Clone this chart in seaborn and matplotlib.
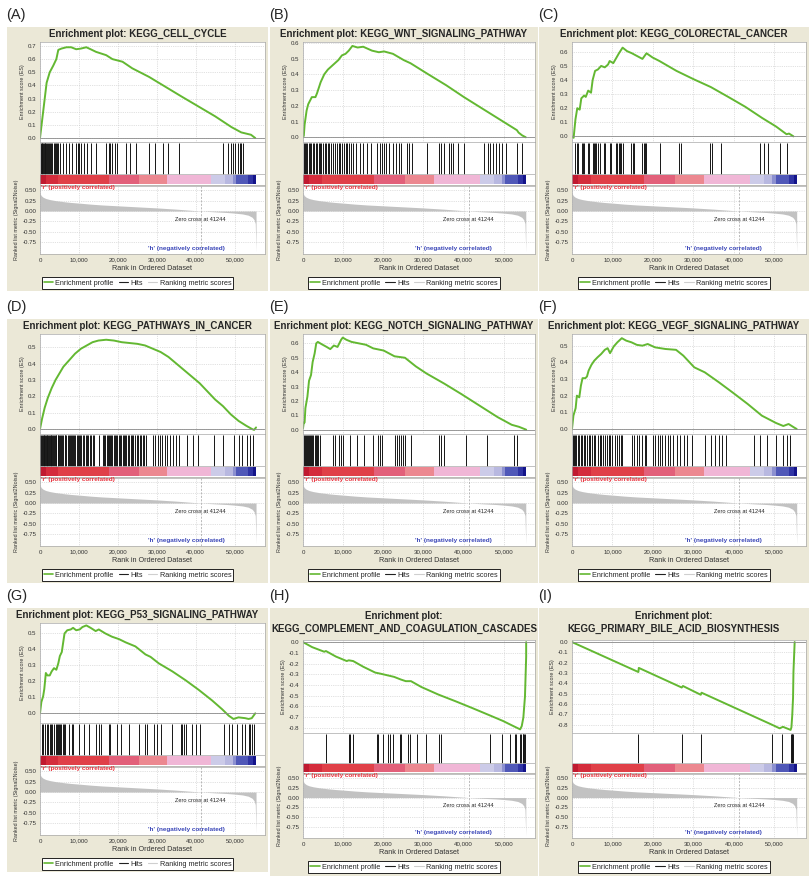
import matplotlib
matplotlib.use("Agg")
import matplotlib.pyplot as plt
from matplotlib.lines import Line2D
from matplotlib.patches import Rectangle
import seaborn as sns

# figure size in pixels (dpi 100)
W, H = 811, 880

BEIGE = "#ebe8d7"
GREEN = "#63b832"
SPINE = "#a8a8a8"
RED_TXT = "#e8333d"
BLUE_TXT = "#3a46b8"

# ranks are in thousands throughout
XMAX = 57.8
x_ticks = [0, 10, 20, 30, 40, 50]
x_tick_labels = ["0", "10,000", "20,000", "30,000", "40,000", "50,000"]

# ranked list metric (same ordered dataset for all panels)
metric_rank = [0, 0.3, 0.8, 1.5, 2.5, 4, 6, 8, 10, 13, 16, 20, 25, 30, 35, 41.244,
               45, 48, 50, 52, 53.5, 54.5, 55.0, 55.3, 55.5]
metric_score = [0.43, 0.37, 0.33, 0.30, 0.275, 0.25, 0.225, 0.205, 0.19, 0.165, 0.145,
                0.125, 0.10, 0.075, 0.045, 0.0, -0.02, -0.035, -0.05, -0.07, -0.10,
                -0.15, -0.21, -0.30, -0.98]
zero_cross = 41.244
metric_ticks = [0.5, 0.25, 0.0, -0.25, -0.5, -0.75]
metric_tick_labels = ["0.50", "0.25", "0.00", "-0.25", "-0.50", "-0.75"]

# colour bar of the ranked list
cb_edges = [0, 1.5, 4.7, 17.8, 25.4, 32.6, 44.0, 47.5, 49.5, 50.4, 53.5, 54.8, 55.5]
cb_colors = ["#c01a30", "#d42c3c", "#e04048", "#e2607a", "#ec8890", "#f0b6d6",
             "#cccbe8", "#b8b8e0", "#8c90d0", "#5058b8", "#3034a4", "#14148a"]

panel_labels = ["(A)", "(B)", "(C)", "(D)", "(E)", "(F)", "(G)", "(H)", "(I)"]
panel_titles = ["KEGG_CELL_CYCLE", "KEGG_WNT_SIGNALING_PATHWAY", "KEGG_COLORECTAL_CANCER",
                "KEGG_PATHWAYS_IN_CANCER", "KEGG_NOTCH_SIGNALING_PATHWAY",
                "KEGG_VEGF_SIGNALING_PATHWAY", "KEGG_P53_SIGNALING_PATHWAY",
                "KEGG_COMPLEMENT_AND_COAGULATION_CASCADES",
                "KEGG_PRIMARY_BILE_ACID_BIOSYNTHESIS"]

a_rank = [0, 0.85, 1.7, 2.5, 3.4, 4.2, 4.7, 5.5, 6.8, 8.0, 9.3, 10.5, 11.9, 13.0, 14.4,
          17.0, 18.6, 21.2, 23.7, 28.0, 32.2, 36.4, 40.7, 45.0, 49.2, 51.7, 54.2, 55.3]
a_es = [0.0, 0.21, 0.42, 0.50, 0.55, 0.60, 0.67, 0.68, 0.69, 0.69, 0.675, 0.68, 0.69,
        0.675, 0.655, 0.63, 0.60, 0.58, 0.53, 0.465, 0.39, 0.315, 0.24, 0.165, 0.083,
        0.043, 0.025, 0.0]
a_hits = [0.2, 0.4, 0.6, 0.8, 1.0, 1.2, 1.4, 1.6, 1.8, 2.0, 2.3, 2.6, 2.9, 3.2, 3.5, 3.8,
          4.1, 4.4, 4.7, 5.2, 5.9, 6.6, 7.5, 8.2, 9.3, 9.7, 10.1, 10.5, 11.2, 12.0, 13.0,
          14.4, 17.0, 17.6, 18.0, 18.6, 19.2, 19.8, 22.0, 23.1, 24.6, 28.0, 29.5, 31.7,
          33.0, 35.6, 47.1, 48.3, 49.0, 49.6, 50.1, 50.9, 51.3, 51.7, 52.2]

b_rank = [0, 0.2, 0.4, 0.9, 1.3, 2.2, 3.1, 3.5, 4.4, 5.3, 6.2, 7.5, 8.8, 9.7, 10.6, 11.4,
          12.3, 13.6, 15.0, 17.2, 18.9, 20.2, 22.4, 25.1, 26.8, 31.2, 35.7, 40.1, 44.5,
          48.9, 53.3, 53.7, 54.6, 55.5]
b_es = [0.0, 0.01, 0.08, 0.17, 0.21, 0.255, 0.255, 0.28, 0.35, 0.40, 0.43, 0.46, 0.49,
        0.52, 0.53, 0.55, 0.58, 0.57, 0.575, 0.55, 0.54, 0.545, 0.53, 0.49, 0.47, 0.40,
        0.33, 0.255, 0.185, 0.115, 0.045, 0.03, 0.012, 0.0]
b_hits = [0.2, 0.5, 0.8, 1.1, 1.4, 1.7, 2.0, 2.4, 2.8, 3.2, 3.6, 4.0, 4.3, 4.6, 5.0, 5.4,
          5.8, 6.2, 6.6, 7.0, 7.5, 8.0, 8.4, 8.9, 9.3, 9.8, 10.2, 10.7, 11.0, 11.5, 12.0,
          12.5, 13.3, 14.2, 15.0, 16.0, 17.0, 18.5, 19.2, 19.8, 20.3, 20.8, 21.4, 22.5,
          23.2, 23.8, 24.3, 26.0, 26.5, 27.1, 30.8, 34.0, 34.5, 35.2, 36.3, 36.8, 37.4,
          38.7, 40.0, 45.2, 46.0, 46.7, 47.3, 48.0, 48.8, 49.5, 50.6, 53.3, 54.6]

c_rank = [0, 0.4, 0.85, 1.3, 1.9, 2.3, 3.0, 3.4, 4.0, 4.7, 5.1, 5.7, 6.4, 7.2, 8.1, 8.9,
          9.3, 10.2, 11.0, 11.6, 12.5, 13.6, 14.8, 16.1, 17.4, 18.4, 19.9, 21.6, 23.7,
          25.8, 30.1, 34.3, 38.6, 42.8, 47.0, 50.4, 53.0, 53.6, 54.7]
c_es = [0.0, -0.01, 0.12, 0.20, 0.19, 0.27, 0.29, 0.28, 0.325, 0.31, 0.40, 0.465, 0.475,
        0.50, 0.49, 0.51, 0.535, 0.52, 0.56, 0.59, 0.63, 0.605, 0.59, 0.57, 0.55, 0.59,
        0.56, 0.535, 0.50, 0.465, 0.405, 0.35, 0.28, 0.21, 0.13, 0.07, 0.015, 0.02, 0.0]
c_hits = [0.85, 1.2, 1.4, 2.5, 2.7, 3.0, 4.0, 4.2, 5.3, 5.5, 5.7, 5.9, 6.5, 6.9, 7.8, 8.1,
          9.5, 9.7, 10.8, 11.2, 11.5, 11.8, 12.1, 12.5, 14.6, 15.0, 15.4, 17.4, 17.7, 18.0,
          18.2, 21.8, 26.4, 26.9, 34.2, 34.7, 36.9, 46.4, 47.4, 48.5, 51.4, 53.1]

d_rank = [0, 0.5, 1.2, 2.0, 3.0, 4.0, 5.0, 6.0, 7.5, 9.0, 10.5, 12.0, 13.5, 15.0, 17.0,
          19.0, 21.0, 23.0, 25.0, 27.0, 29.0, 31.0, 33.0, 35.0, 37.0, 39.0, 41.0, 43.0,
          45.0, 47.0, 49.0, 51.0, 53.0, 54.5, 55.0, 55.5]
d_es = [0.0, 0.06, 0.13, 0.19, 0.25, 0.30, 0.34, 0.38, 0.42, 0.46, 0.49, 0.51, 0.53, 0.54,
        0.545, 0.54, 0.53, 0.525, 0.52, 0.51, 0.49, 0.47, 0.44, 0.40, 0.36, 0.32, 0.28,
        0.23, 0.18, 0.14, 0.09, 0.05, 0.02, 0.0, -0.005, 0.01]
d_hits = [0.1, 0.3, 0.5, 0.7, 0.9, 1.1, 1.3, 1.5, 1.7, 1.9, 2.1, 2.3, 2.5, 2.7, 2.9, 3.1,
          3.3, 3.5, 3.8, 4.0, 4.2, 4.5, 4.7, 5.0, 5.2, 5.5, 5.7, 6.0, 6.3, 6.5, 6.8, 7.1,
          7.4, 7.6, 7.9, 8.2, 8.5, 8.8, 9.1, 9.4, 9.7, 10.0, 10.3, 10.6, 11.0, 11.3, 11.7,
          12.0, 12.4, 12.8, 13.2, 13.6, 14.0, 15.1, 16.2, 16.5, 16.8, 17.1, 17.4, 17.7,
          18.0, 18.3, 18.6, 18.9, 19.2, 19.5, 19.9, 20.2, 20.5, 20.9, 21.2, 21.5, 21.9,
          22.2, 22.6, 22.9, 23.3, 23.6, 24.0, 24.4, 24.8, 25.2, 25.6, 26.0, 26.4, 26.8,
          27.3, 29.0, 29.6, 30.2, 30.8, 31.4, 32.0, 32.7, 33.4, 34.2, 35.0, 35.8, 37.8,
          39.4, 40.6, 44.6, 47.0, 49.8, 51.0, 52.0, 53.2, 54.0, 54.7]

e_rank = [0, 0.2, 0.4, 0.6, 1.1, 1.5, 2.0, 2.4, 2.9, 3.3, 3.7, 4.6, 5.9, 6.8, 7.7, 8.6,
          9.5, 9.9, 10.8, 12.1, 13.9, 15.7, 17.5, 20.1, 22.8, 25.4, 28.1, 30.8, 35.2,
          39.6, 44.1, 48.5, 52.0, 53.8, 55.6]
e_es = [0.01, 0.05, 0.05, 0.15, 0.23, 0.34, 0.38, 0.47, 0.53, 0.60, 0.61, 0.595, 0.575,
        0.56, 0.585, 0.575, 0.625, 0.64, 0.625, 0.61, 0.60, 0.59, 0.565, 0.55, 0.51, 0.50,
        0.44, 0.39, 0.32, 0.245, 0.165, 0.087, 0.034, 0.02, 0.0]
e_hits = [0.2, 0.45, 0.7, 0.95, 1.2, 1.45, 1.7, 2.0, 2.3, 2.6, 2.9, 3.2, 3.5, 3.7, 4.2,
          7.5, 7.9, 9.0, 9.5, 9.9, 11.7, 13.5, 15.2, 17.5, 18.8, 19.2, 19.7, 22.8, 23.3,
          23.9, 24.4, 24.8, 25.4, 26.8, 33.9, 34.3, 35.2, 40.5, 45.8, 52.5, 53.4]

f_rank = [0, 0.35, 0.9, 1.2, 1.8, 2.2, 2.6, 3.3, 3.7, 4.1, 4.8, 5.5, 6.3, 7.2, 8.1, 8.8,
          9.4, 10.3, 11.2, 12.3, 13.4, 14.7, 16.0, 17.4, 18.7, 20.5, 23.1, 25.7, 27.5,
          30.2, 32.8, 36.3, 39.9, 43.4, 46.9, 50.4, 52.2, 53.5, 54.8, 55.5]
f_es = [0.0, 0.08, 0.125, 0.20, 0.19, 0.26, 0.305, 0.305, 0.315, 0.35, 0.385, 0.41, 0.43,
        0.45, 0.475, 0.485, 0.455, 0.495, 0.52, 0.545, 0.53, 0.52, 0.505, 0.50, 0.51,
        0.49, 0.48, 0.475, 0.44, 0.37, 0.34, 0.28, 0.215, 0.15, 0.08, 0.036, 0.018, 0.03,
        0.01, 0.0]
f_hits = [0.2, 0.5, 0.8, 1.1, 1.5, 1.8, 2.2, 2.5, 2.9, 3.3, 3.7, 4.1, 4.5, 4.9, 5.4, 5.8,
          6.3, 6.8, 7.2, 7.7, 8.1, 8.6, 9.1, 9.5, 10.0, 10.5, 11.0, 11.5, 12.0, 12.4,
          14.7, 15.3, 16.0, 16.6, 17.4, 18.0, 18.4, 20.0, 20.6, 21.2, 21.8, 22.3, 23.0,
          23.6, 24.2, 24.9, 26.0, 26.8, 27.6, 28.5, 29.6, 32.8, 34.3, 35.2, 36.2, 37.1,
          38.0, 45.0, 46.5, 48.2, 50.4, 52.2, 53.0, 53.8]

g_rank = [0, 0.35, 0.8, 1.1, 1.5, 1.9, 2.5, 3.0, 3.6, 4.2, 4.7, 5.1, 5.6, 5.9, 6.3, 7.0,
          7.9, 8.5, 9.3, 10.2, 10.9, 11.9, 13.0, 14.3, 15.1, 16.8, 18.5, 20.3, 22.0, 24.5,
          27.1, 28.4, 30.5, 34.0, 37.4, 40.8, 44.2, 46.8, 48.5, 49.7, 51.0, 52.7, 53.6,
          54.4, 55.3]
g_es = [0.0, 0.07, 0.105, 0.15, 0.25, 0.235, 0.235, 0.26, 0.28, 0.27, 0.31, 0.355, 0.38,
        0.43, 0.495, 0.515, 0.52, 0.53, 0.515, 0.52, 0.535, 0.545, 0.53, 0.51, 0.52,
        0.495, 0.475, 0.46, 0.44, 0.415, 0.365, 0.35, 0.31, 0.26, 0.205, 0.145, 0.08,
        0.025, -0.015, -0.035, -0.025, -0.03, -0.035, -0.03, 0.0]
g_hits = [0.4, 0.8, 1.2, 1.7, 2.1, 2.5, 2.9, 3.2, 3.6, 4.0, 4.3, 4.6, 4.9, 5.2, 5.5, 5.8,
          6.1, 6.3, 7.4, 8.1, 8.5, 10.0, 11.3, 12.6, 14.3, 15.1, 15.6, 17.6, 18.1, 19.8,
          20.7, 22.8, 25.4, 27.1, 27.5, 29.3, 30.1, 31.0, 34.0, 36.1, 36.5, 37.0, 37.4,
          39.1, 40.0, 41.2, 47.2, 48.5, 49.3, 50.6, 51.9, 52.7, 53.6, 54.0, 54.4, 54.9]

h_rank = [0, 2.3, 5.3, 5.7, 8.2, 10.9, 11.4, 12.5, 15.0, 18.0, 19.3, 21.0, 22.7, 24.4,
          25.6, 26.9, 29.5, 33.7, 38.0, 42.2, 46.4, 49.8, 52.4, 54.1, 54.5, 54.9, 55.3,
          55.6, 55.6]
h_es = [0.0, -0.047, -0.09, -0.083, -0.135, -0.177, -0.17, -0.177, -0.23, -0.285, -0.295,
        -0.31, -0.325, -0.35, -0.365, -0.365, -0.42, -0.49, -0.553, -0.617, -0.683,
        -0.737, -0.785, -0.816, -0.785, -0.705, -0.51, -0.136, 0.0]
h_hits = [5.7, 11.4, 11.6, 12.4, 18.4, 18.6, 19.9, 21.3, 21.6, 22.4, 24.1, 24.4, 26.2,
          26.6, 28.5, 30.7, 34.0, 34.3, 46.6, 49.6, 51.5, 52.7, 53.1, 54.1, 54.4, 54.7,
          54.9, 55.1, 55.3]

i_rank = [0, 16.4, 16.5, 27.1, 27.4, 31.8, 32.0, 49.4, 51.3, 52.1, 54.0, 54.2, 54.4, 54.6,
          54.7, 55.0]
i_es = [0.0, -0.29, -0.25, -0.44, -0.425, -0.51, -0.49, -0.80, -0.835, -0.82, -0.85,
        -0.825, -0.71, -0.54, -0.29, 0.0]
i_hits = [16.4, 27.1, 31.8, 49.4, 51.9, 54.1, 54.3, 54.45, 54.6]

es_ticks_07 = [0.0, 0.1, 0.2, 0.3, 0.4, 0.5, 0.6, 0.7]
es_ticks_06 = [0.0, 0.1, 0.2, 0.3, 0.4, 0.5, 0.6]
es_ticks_05 = [0.0, 0.1, 0.2, 0.3, 0.4, 0.5]
es_ticks_neg = [0.0, -0.1, -0.2, -0.3, -0.4, -0.5, -0.6, -0.7, -0.8]


def to_fig(x, y):
    return x / W, 1 - y / H


def style_axes(ax):
    for sp in ax.spines.values():
        sp.set_color(SPINE)
        sp.set_linewidth(0.5)
    ax.tick_params(labelsize=4.4, length=1.5, width=0.4, pad=1.2,
                   color="#888888", labelcolor="#333333")


def draw_panel(fig, box, label, title, es_rank, es_score, hits, es_lim, es_ticks,
               two_line=False):
    x0, y0, w, h = box
    cx = x0 + w / 2

    fig.add_artist(Rectangle(to_fig(x0, y0 + h), w / W, h / H, transform=fig.transFigure,
                             facecolor=BEIGE, edgecolor="none", zorder=-1))
    fig.text(*to_fig(x0 - 1, y0 - 12), label, fontsize=10.5, ha="left", va="center")

    if two_line:
        fig.text(*to_fig(cx, y0 + 8), "Enrichment plot:", fontsize=7, fontweight="bold",
                 ha="center", va="center")
        fig.text(*to_fig(cx, y0 + 21), title, fontsize=7, fontweight="bold",
                 ha="center", va="center")
        es_top, es_bot, hit_bot, met_top, met_bot, leg_y = 32, 125, 165, 166, 230, 259
    else:
        fig.text(*to_fig(cx, y0 + 6.5), "Enrichment plot: " + title, fontsize=7,
                 fontweight="bold", ha="center", va="center")
        es_top, es_bot, hit_bot, met_top, met_bot, leg_y = 15, 115, 158, 159, 227, 256

    left = x0 + 33
    right = x0 + w - 3

    def make_axes(top, bot):
        fx, fy = to_fig(left, y0 + bot)
        return fig.add_axes([fx, fy, (right - left) / W, (bot - top) / H])

    # enrichment score
    ax_es = make_axes(es_top, es_bot)
    sns.lineplot(x=es_rank, y=es_score, sort=False, estimator=None, color=GREEN,
                 linewidth=1.4, ax=ax_es)
    ax_es.axhline(0, color="#8a8a8a", lw=0.6)
    ax_es.set_xlim(0, XMAX)
    ax_es.set_ylim(*es_lim)
    ax_es.set_xticks(x_ticks)
    ax_es.set_xticklabels([])
    ax_es.tick_params(axis="x", length=0)
    ax_es.set_yticks(es_ticks)
    ax_es.set_yticklabels([f"{v:.1f}" for v in es_ticks])
    ax_es.grid(True, ls=":", lw=0.5, color="#c4c4c4")
    ax_es.set_xlabel("")
    ax_es.set_ylabel("Enrichment score (ES)", fontsize=3.9, labelpad=2, color="#333333")
    style_axes(ax_es)

    # hits + colour bar
    ax_hit = make_axes(es_bot, hit_bot)
    ax_hit.vlines(hits, 0.25, 0.97, color="#151515", lw=0.7)
    for i, col in enumerate(cb_colors):
        ax_hit.axvspan(cb_edges[i], cb_edges[i + 1], ymin=0.03, ymax=0.23, color=col, lw=0)
    ax_hit.axhline(0.245, color=SPINE, lw=0.5)
    ax_hit.set_xlim(0, XMAX)
    ax_hit.set_ylim(0, 1)
    ax_hit.set_xticks([])
    ax_hit.set_yticks([])
    style_axes(ax_hit)

    # ranked list metric
    ax_m = make_axes(met_top, met_bot)
    ax_m.fill_between(metric_rank, metric_score, 0, color="#c2c2c2", lw=0)
    ax_m.axvline(zero_cross, ls=(0, (3, 2)), color="#a0a0a0", lw=0.5)
    ax_m.text(zero_cross, -0.21, "Zero cross at 41244", fontsize=4.1, ha="center",
              va="center", color="#222222")
    ax_m.text(0.3, 0.56, "'r' (positively correlated)", fontsize=4.6, fontweight="bold",
              color=RED_TXT, ha="left", va="center")
    ax_m.text(37.5, -0.9, "'h' (negatively correlated)", fontsize=4.6, fontweight="bold",
              color=BLUE_TXT, ha="center", va="center")
    ax_m.set_xlim(0, XMAX)
    ax_m.set_ylim(-1.03, 0.6)
    ax_m.set_xticks(x_ticks)
    ax_m.set_xticklabels(x_tick_labels)
    ax_m.set_yticks(metric_ticks)
    ax_m.set_yticklabels(metric_tick_labels)
    ax_m.grid(True, ls=":", lw=0.5, color="#c4c4c4")
    ax_m.set_xlabel("Rank in Ordered Dataset", fontsize=5.2, labelpad=1.5, color="#333333")
    ax_m.set_ylabel("Ranked list metric (Signal2Noise)", fontsize=3.9, labelpad=2,
                    color="#333333")
    style_axes(ax_m)

    handles = [Line2D([], [], color=GREEN, lw=1.2),
               Line2D([], [], color="#202020", lw=0.8),
               Line2D([], [], color="#cfcfcf", lw=0.8)]
    leg = fig.legend(handles, ["Enrichment profile", "Hits", "Ranking metric scores"],
                     loc="center", bbox_to_anchor=to_fig(cx, y0 + leg_y), ncol=3,
                     fontsize=5.2, frameon=True, fancybox=False, edgecolor="black",
                     framealpha=1, borderpad=0.3, handlelength=1.3, handletextpad=0.3,
                     columnspacing=0.7, borderaxespad=0)
    leg.get_frame().set_linewidth(0.6)


sns.set_style("white")
plt.rcParams["font.family"] = ["Liberation Sans", "DejaVu Sans"]

fig = plt.figure(figsize=(W / 100, H / 100), dpi=100)

boxes = [(7, 27, 261, 264), (270, 27, 268, 264), (539, 27, 270, 264),
         (7, 319, 261, 264), (270, 319, 268, 264), (539, 319, 270, 264),
         (7, 608, 261, 264), (270, 608, 268, 268), (539, 608, 270, 268)]

panel_data = [
    (a_rank, a_es, a_hits, (-0.03, 0.73), es_ticks_07),
    (b_rank, b_es, b_hits, (-0.03, 0.605), es_ticks_06),
    (c_rank, c_es, c_hits, (-0.04, 0.67), es_ticks_06),
    (d_rank, d_es, d_hits, (-0.03, 0.58), es_ticks_05),
    (e_rank, e_es, e_hits, (-0.03, 0.665), es_ticks_06),
    (f_rank, f_es, f_hits, (-0.03, 0.57), es_ticks_05),
    (g_rank, g_es, g_hits, (-0.06, 0.56), es_ticks_05),
    (h_rank, h_es, h_hits, (-0.85, 0.02), es_ticks_neg),
    (i_rank, i_es, i_hits, (-0.88, 0.02), es_ticks_neg),
]

for k, (rank, es, hits, lim, ticks) in enumerate(panel_data):
    draw_panel(fig, boxes[k], panel_labels[k], panel_titles[k], rank, es, hits, lim, ticks,
               two_line=(k >= 7))

fig.savefig("out.png", dpi=100)
